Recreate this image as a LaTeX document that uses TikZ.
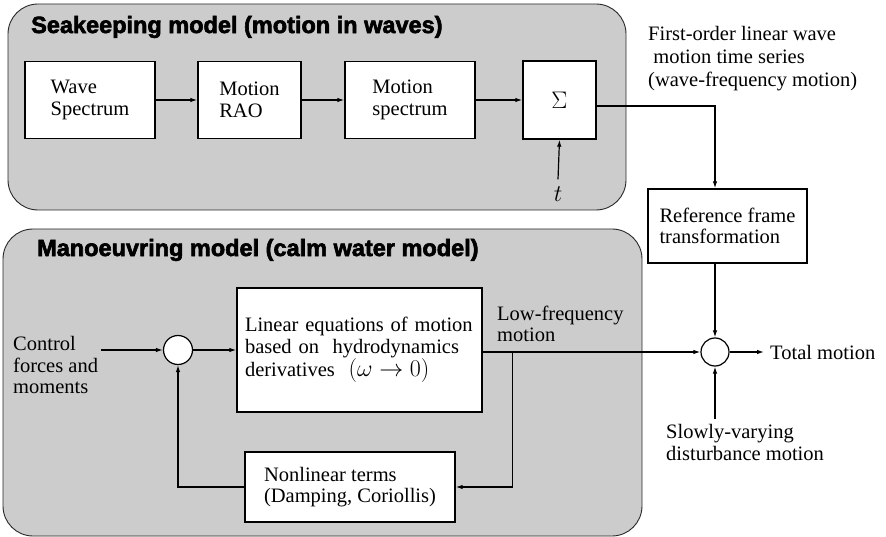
\RequirePackage{fix-cm}
\documentclass[tikz,border=0pt]{standalone}
\usepackage[no-math]{fontspec}
\setmainfont{Liberation Serif}
\newfontfamily\titlefont{Liberation Sans Bold}[FakeBold=2.6]
\usepackage{tikz}
\usetikzlibrary{arrows.meta, positioning, calc}
\definecolor{panelgray}{RGB}{204, 204, 204}
\definecolor{panelline}{RGB}{40, 40, 40}
\newcommand{\bigmath}[1]{{\fontsize{24}{24}\selectfont$#1$}}

\begin{document}
\begin{tikzpicture}[x=1pt, y=-1pt, >={Latex[length=7pt, width=4.5pt]},
    font=\fontsize{20.5}{21.5}\selectfont,
    panel/.style={draw=panelline, fill=panelgray, line width=0.9pt, rounded corners=30pt},
    paneltitle/.style={anchor=west, inner sep=0pt, font=\titlefont\fontsize{23.5}{24}\selectfont},
    blockbox/.style={draw, fill=white, line width=1.4pt, align=left, inner sep=0pt},
    sumnode/.style={draw, circle, fill=white, line width=1.2pt, minimum size=29pt, inner sep=0pt},
    flow/.style={->, line width=1.2pt},
    plainlabel/.style={align=left, inner sep=0pt}]
    \useasboundingbox (0,0) rectangle (886,537);

    % Panels
    \draw[panel] (8,4) rectangle (626,210);
    \draw[panel] (3,229) rectangle (642,536);
    \node[paneltitle] (seatitle) at (31,27) {Seakeeping model (motion in waves)};
    \node[paneltitle] (mantitle) at (37,250) {Manoeuvring model (calm water model)};

    % Seakeeping blocks
    \node[blockbox, minimum width=130pt, minimum height=77pt] (wavespec) at (90,100) {Wave\\Spectrum};
    \node[blockbox, minimum width=103pt, minimum height=77pt] (rao) at (249.5,100) {Motion\\RAO};
    \node[blockbox, minimum width=130pt, minimum height=77pt] (motspec) at (410,100) {Motion\\spectrum};
    \node[blockbox, minimum width=73pt, minimum height=78pt] (sigma) at (559.5,100) {\bigmath{\Sigma}};
    \node[inner sep=0pt] (tin) at (558,194) {\bigmath{t}};

    % Manoeuvring blocks
    \node[blockbox, text width=229pt, inner xsep=8pt, minimum height=124pt] (lineq) at (359.5,350)
        {Linear equations of motion\\based on\ \ hydrodynamics\\derivatives\ \ \bigmath{(\omega\rightarrow 0)}};
    \node[blockbox, minimum width=210pt, minimum height=70pt] (nonlin) at (350,487)
        {Nonlinear terms\\(Damping, Coriollis)};
    \node[sumnode] (sum1) at (178,350) {};
    \node[sumnode, minimum size=28pt] (sum2) at (715,352) {};
    \node[blockbox, minimum width=159pt, minimum height=74pt] (refbox) at (727.5,226)
        {Reference frame\\transformation};

    % Free labels
    \node[plainlabel, anchor=west] (ctrl) at (13,365) {Control\\forces and\\moments};
    \node[plainlabel, anchor=west] (lowfreq) at (497,324) {Low-frequency\\motion};
    \node[plainlabel, anchor=west] (total) at (770,352) {Total motion};
    \node[plainlabel, anchor=west] (slow) at (666,442.5) {Slowly-varying\\disturbance motion};
    \node[plainlabel, anchor=west, font=\fontsize{20.5}{23}\selectfont] (wflabel) at (648,59)
        {First-order linear wave\\\ motion time series\\(wave-frequency motion)};

    % Signal flow
    \draw[flow] (wavespec.east) -- (rao.west);
    \draw[flow] (rao.east) -- (motspec.west);
    \draw[flow] (motspec.east) -- (sigma.west);
    \draw[flow] ($(tin.north)+(0,-7)$) -- (sigma.south);
    \draw[flow] ($(sigma.east)+(0,6)$) -| (sum2 |- refbox.north);
    \draw[flow] (refbox.south -| sum2) -- (sum2.north);
    \draw[flow] ($(ctrl.east |- sum1.west)+(3,0)$) -- (sum1.west);
    \draw[flow] (sum1.east) -- (lineq.west |- sum1.east);
    \draw[flow] (lineq.east |- sum2.west) -- (sum2.west);
    \coordinate (branch) at ($(lineq.east |- sum2.west)+(30,0)$);
    \draw[flow] (branch) |- (nonlin.east);
    \draw[flow] (nonlin.west) -| (sum1.south);
    \draw[flow] (sum2.east) -- ($(total.west)+(-6,0)$);
    \draw[flow] ($(sum2 |- slow.north)+(0,-5)$) -- (sum2.south);
\end{tikzpicture}
\end{document}
